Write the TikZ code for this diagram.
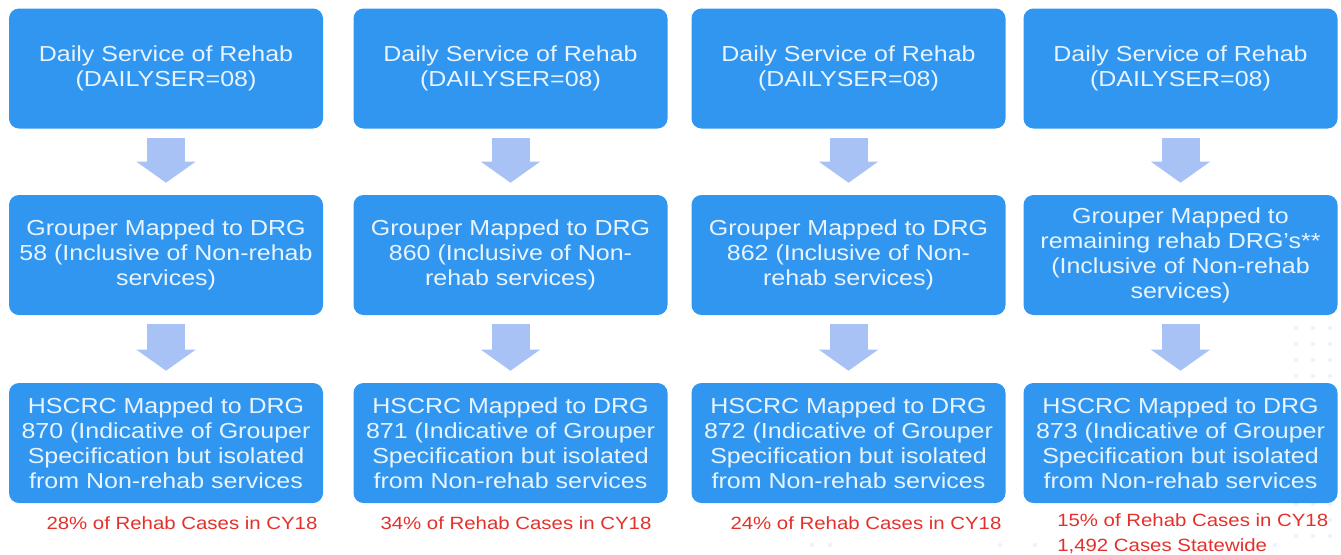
\documentclass[tikz,border=0pt]{standalone}
\usepackage{fontspec}
\setmainfont[FakeStretch=1.15]{Liberation Sans}
\usetikzlibrary{arrows.meta}

\definecolor{boxblue}{RGB}{48,150,240}
\definecolor{arrowblue}{RGB}{168,194,245}
\definecolor{boxtext}{RGB}{232,244,255}
\definecolor{casered}{RGB}{228,48,42}
\definecolor{dotgray}{RGB}{238,242,250}

\tikzset{
  flowbox/.style={rectangle, rounded corners=7.5pt, fill=boxblue, text=boxtext,
    minimum width=235.5pt, minimum height=90pt, inner sep=0pt, align=center,
    font=\fontsize{16.3pt}{18.75pt}\selectfont},
  flowarrow/.style={arrowblue, line width=28.5pt,
    -{Triangle[width=43.5pt,length=15.75pt]}, shorten <=6.75pt, shorten >=9pt},
  caselabel/.style={text=casered, inner sep=0pt, font=\fontsize{13.3pt}{18.75pt}\selectfont}
}

\begin{document}
\begin{tikzpicture}[x=0.75pt,y=-0.75pt]
\useasboundingbox (0,0) rectangle (1341,554);

% faint background dots
\foreach \dx in {1296,1313,1330}
  \foreach \dy in {328,344,360,376,392,408,424,440,456,472,488,504,520,536}
    \fill[dotgray] (\dx,\dy) circle (2.2);
\foreach \dx in {812,830,1000,1035,1275}
  \fill[dotgray] (\dx,545) circle (2.2);

% top row
\node[flowbox] (d1) at (166,68.5) {Daily Service of Rehab\\(DAILYSER=08)};
\node[flowbox] (d2) at (510.5,68.5) {Daily Service of Rehab\\(DAILYSER=08)};
\node[flowbox] (d3) at (848.5,68.5) {Daily Service of Rehab\\(DAILYSER=08)};
\node[flowbox] (d4) at (1180.5,68.5) {Daily Service of Rehab\\(DAILYSER=08)};

% grouper row
\node[flowbox] (g1) at (166,255) {Grouper Mapped to DRG\\58 (Inclusive of Non-rehab\\services)};
\node[flowbox] (g2) at (510.5,255) {Grouper Mapped to DRG\\860 (Inclusive of Non-\\rehab services)};
\node[flowbox] (g3) at (848.5,255) {Grouper Mapped to DRG\\862 (Inclusive of Non-\\rehab services)};
\node[flowbox] (g4) at (1180.5,255) {Grouper Mapped to\\remaining rehab DRG's**\\(Inclusive of Non-rehab\\services)};

% hscrc row
\node[flowbox] (h1) at (166,443) {HSCRC Mapped to DRG\\870 (Indicative of Grouper\\Specification but isolated\\from Non-rehab services};
\node[flowbox] (h2) at (510.5,443) {HSCRC Mapped to DRG\\871 (Indicative of Grouper\\Specification but isolated\\from Non-rehab services};
\node[flowbox] (h3) at (848.5,443) {HSCRC Mapped to DRG\\872 (Indicative of Grouper\\Specification but isolated\\from Non-rehab services};
\node[flowbox] (h4) at (1180.5,443) {HSCRC Mapped to DRG\\873 (Indicative of Grouper\\Specification but isolated\\from Non-rehab services};

% arrows
\draw[flowarrow] (d1) -- (g1);
\draw[flowarrow] (d2) -- (g2);
\draw[flowarrow] (d3) -- (g3);
\draw[flowarrow] (d4) -- (g4);
\draw[flowarrow] (g1) -- (h1);
\draw[flowarrow] (g2) -- (h2);
\draw[flowarrow] (g3) -- (h3);
\draw[flowarrow] (g4) -- (h4);

% shares
\node[caselabel] (p1) at (182,523) {28\% of Rehab Cases in CY18};
\node[caselabel] (p2) at (516,523) {34\% of Rehab Cases in CY18};
\node[caselabel] (p3) at (866,523) {24\% of Rehab Cases in CY18};
\node[caselabel, anchor=west, align=left] (p4) at (1057,534) {15\% of Rehab Cases in CY18\\1,492 Cases Statewide};
\end{tikzpicture}
\end{document}
